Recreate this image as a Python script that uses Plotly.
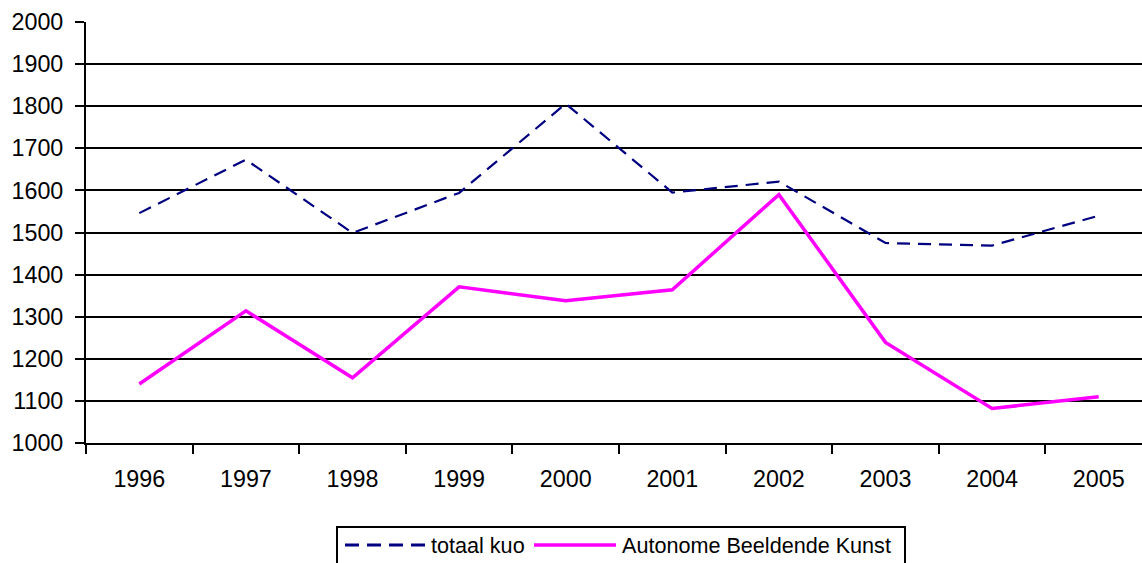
import plotly.graph_objects as go

years = ["1996", "1997", "1998", "1999", "2000", "2001", "2002", "2003", "2004", "2005"]
totaal_kuo = [1546, 1673, 1499, 1594, 1806, 1595, 1621, 1475, 1469, 1540]
autonome_bk = [1140, 1314, 1155, 1371, 1338, 1364, 1590, 1239, 1082, 1110]
y_ticks = list(range(1000, 2001, 100))

W, H = 1142, 563
L, T, B = 86, 22, 120
plot_w = W - L
plot_h = H - T - B
cat_w = 106.6  # pixel width of one category

xs = list(range(len(years)))
FONT = "Arial, Liberation Sans, sans-serif"
TICK_SIZE = 23.3
LEG_SIZE = 21.6

fig = go.Figure()
fig.add_trace(go.Scatter(x=xs, y=totaal_kuo, mode="lines", name="totaal kuo",
                         line=dict(color="#000080", width=2.2, dash="13px,8px")))
fig.add_trace(go.Scatter(x=xs, y=autonome_bk, mode="lines", name="Autonome Beeldende Kunst",
                         line=dict(color="#FF00FF", width=3.5)))

def px(xp):
    return (xp - L) / plot_w

def py(yp):
    return (H - B - yp) / plot_h

shapes = [
    dict(type="rect", xref="paper", yref="paper", x0=px(337), x1=px(905), y0=py(575), y1=py(527),
         line=dict(color="black", width=2), fillcolor="white", layer="above"),
    dict(type="line", xref="paper", yref="paper", x0=px(345), x1=px(427), y0=py(545), y1=py(545),
         line=dict(color="#000080", width=3, dash="14px,8px")),
    dict(type="line", xref="paper", yref="paper", x0=px(534), x1=px(616), y0=py(545), y1=py(545),
         line=dict(color="#FF00FF", width=3.5)),
]
annotations = [
    dict(xref="paper", yref="paper", x=px(429), y=py(545), text="totaal kuo", showarrow=False,
         xanchor="left", yanchor="middle", font=dict(family=FONT, size=LEG_SIZE, color="black")),
    dict(xref="paper", yref="paper", x=px(620), y=py(545), text="Autonome Beeldende Kunst", showarrow=False,
         xanchor="left", yanchor="middle", font=dict(family=FONT, size=LEG_SIZE, color="black")),
]

fig.update_layout(
    width=W, height=H,
    margin=dict(l=L, r=0, t=T, b=B, pad=0),
    paper_bgcolor="white", plot_bgcolor="white",
    showlegend=False,
    font=dict(family=FONT, size=TICK_SIZE, color="black"),
    shapes=shapes, annotations=annotations,
    xaxis=dict(
        range=[-0.5, -0.5 + plot_w / cat_w],
        tickmode="array", tickvals=xs, ticktext=years,
        ticks="", showgrid=False, zeroline=False,
        showline=True, linecolor="black", linewidth=2,
        ticklabelstandoff=14,
        tickfont=dict(family=FONT, size=TICK_SIZE, color="black"),
        minor=dict(tickmode="array", tickvals=[i - 0.5 for i in range(len(years) + 1)],
                   ticks="outside", ticklen=9, tickwidth=2, tickcolor="black", showgrid=False),
    ),
    yaxis=dict(
        range=[1000, 2000],
        tickmode="array", tickvals=y_ticks,
        ticks="outside", ticklen=9, tickwidth=2, tickcolor="black",
        showgrid=True, gridcolor="black", gridwidth=2,
        zeroline=False,
        showline=True, linecolor="black", linewidth=2,
        ticklabelstandoff=7,
        tickfont=dict(family=FONT, size=TICK_SIZE, color="black"),
    ),
)

fig.write_html("out.html", config={"displayModeBar": False})

# remove the browser's default body margin so the figure sits at the page origin
with open("out.html", "r", encoding="utf-8") as f:
    html = f.read()
html = html.replace("<body>", '<body style="margin:0;padding:0;overflow:hidden">', 1)
with open("out.html", "w", encoding="utf-8") as f:
    f.write(html)
